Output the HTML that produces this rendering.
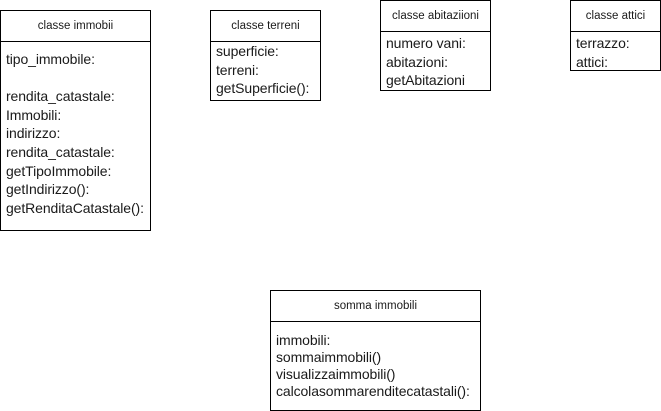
<!DOCTYPE html>
<html><head><meta charset="utf-8"><style>
body{margin:0;width:661px;height:411px;background:#fff;position:relative;overflow:hidden;font-family:"Liberation Sans",Arial,sans-serif;color:#1a1a1a}
.b{position:absolute;border:1px solid #000;box-sizing:border-box}
.h{position:absolute;left:0;right:0;border-bottom:1px solid #000;font-size:11.5px;text-align:center;box-sizing:border-box}
.t{position:absolute;font-size:14px;white-space:pre;left:5px;letter-spacing:-0.1px}
</style></head><body>
<div class="b" style="left:0;top:10px;width:151px;height:221px">
 <div class="h" style="top:0;height:31px;line-height:30px">classe immobii</div>
 <div class="t" style="top:39px;line-height:18.6px">tipo_immobile:

rendita_catastale:
Immobili:
indirizzo:
rendita_catastale:
getTipoImmobile:
getIndirizzo():
getRenditaCatastale():</div>
</div>
<div class="b" style="left:210px;top:10px;width:111px;height:91px">
 <div class="h" style="top:0;height:31px;line-height:30px">classe terreni</div>
 <div class="t" style="top:31px;line-height:18.5px">superficie:
terreni:
getSuperficie():</div>
</div>
<div class="b" style="left:380px;top:0;width:111px;height:91px">
 <div class="h" style="top:0;height:31px;line-height:30px">classe abitaziioni</div>
 <div class="t" style="top:33px;line-height:18.5px">numero vani:
abitazioni:
getAbitazioni</div>
</div>
<div class="b" style="left:570px;top:0;width:91px;height:71px">
 <div class="h" style="top:0;height:31px;line-height:30px">classe attici</div>
 <div class="t" style="top:33px;line-height:18.5px">terrazzo:
attici:</div>
</div>
<div class="b" style="left:270px;top:290px;width:211px;height:121px">
 <div class="h" style="top:0;height:31px;line-height:30px">somma immobili</div>
 <div class="t" style="top:41px;line-height:17px">immobili:
sommaimmobili()
visualizzaimmobili()
calcolasommarenditecatastali():</div>
</div>
</body></html>
